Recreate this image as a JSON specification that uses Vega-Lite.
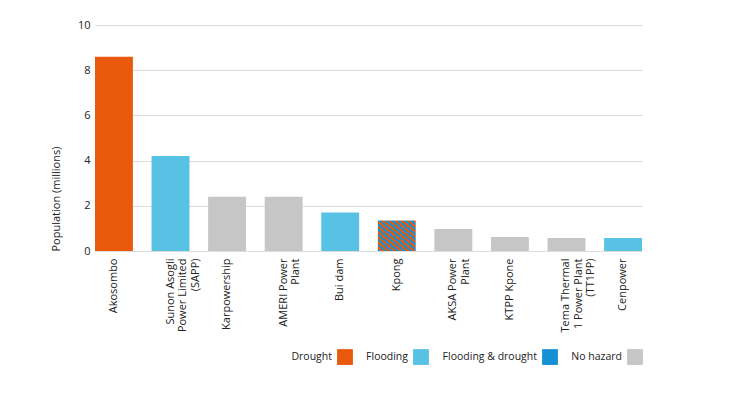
{
  "$schema": "https://vega.github.io/schema/vega-lite/v6.json",
  "width": 547,
  "height": 226,
  "autosize": {"type": "none"},
  "padding": {"left": 95, "top": 25, "right": 103, "bottom": 148},
  "background": "white",
  "config": {
    "view": {"stroke": null},
    "font": "Open Sans",
    "axis": {"labelFont": "Open Sans", "titleFont": "Open Sans", "labelColor": "#222222", "titleColor": "#222222"}
  },
  "data": {
    "values": [
      {"site": "Akosombo", "population": 8.6, "hazard": "Drought"},
      {"site": "Sunon Asogli|Power Limited|(SAPP)", "population": 4.2, "hazard": "Flooding"},
      {"site": "Karpowership", "population": 2.4, "hazard": "No hazard"},
      {"site": "AMERI Power|Plant", "population": 2.4, "hazard": "No hazard"},
      {"site": "Bui dam", "population": 1.7, "hazard": "Flooding"},
      {"site": "Kpong", "population": 1.35, "hazard": "Flooding & drought"},
      {"site": "AKSA Power|Plant", "population": 0.97, "hazard": "No hazard"},
      {"site": "KTPP Kpone", "population": 0.62, "hazard": "No hazard"},
      {"site": "Tema Thermal|1 Power Plant|(TT1PP)", "population": 0.58, "hazard": "No hazard"},
      {"site": "Cenpower", "population": 0.58, "hazard": "Flooding"}
    ]
  },
  "mark": {"type": "bar"},
  "encoding": {
    "x": {
      "field": "site",
      "type": "nominal",
      "sort": null,
      "scale": {"paddingInner": 0.33, "paddingOuter": 0},
      "axis": {
        "title": null,
        "labelAngle": -90,
        "labelExpr": "split(datum.value, '|')",
        "labelFontSize": 11,
        "labelLineHeight": 12.5,
        "labelPadding": 7,
        "ticks": false,
        "domain": false,
        "grid": false
      }
    },
    "y": {
      "field": "population",
      "type": "quantitative",
      "scale": {"domain": [0, 10], "nice": false},
      "axis": {
        "title": "Population (millions)",
        "titleFontSize": 11,
        "titleFontWeight": "normal",
        "titleAnchor": "start",
        "titlePadding": 16,
        "values": [0, 2, 4, 6, 8, 10],
        "labelFontSize": 11,
        "labelPadding": 5,
        "ticks": false,
        "domain": false,
        "grid": true,
        "gridColor": "#dcdcdc",
        "gridWidth": 1.2
      }
    },
    "color": {
      "condition": {
        "test": "datum.hazard === 'Flooding & drought'",
        "value": {
          "gradient": "linear", "x1": 0, "y1": 1, "x2": 1, "y2": 0,
          "stops": [
            {"offset": 0, "color": "#1590D5"}, {"offset": 0.0417, "color": "#1590D5"},
            {"offset": 0.0417, "color": "#E8590C"}, {"offset": 0.0833, "color": "#E8590C"},
            {"offset": 0.0833, "color": "#1590D5"}, {"offset": 0.125, "color": "#1590D5"},
            {"offset": 0.125, "color": "#E8590C"}, {"offset": 0.1667, "color": "#E8590C"},
            {"offset": 0.1667, "color": "#1590D5"}, {"offset": 0.2083, "color": "#1590D5"},
            {"offset": 0.2083, "color": "#E8590C"}, {"offset": 0.25, "color": "#E8590C"},
            {"offset": 0.25, "color": "#1590D5"}, {"offset": 0.2917, "color": "#1590D5"},
            {"offset": 0.2917, "color": "#E8590C"}, {"offset": 0.3333, "color": "#E8590C"},
            {"offset": 0.3333, "color": "#1590D5"}, {"offset": 0.375, "color": "#1590D5"},
            {"offset": 0.375, "color": "#E8590C"}, {"offset": 0.4167, "color": "#E8590C"},
            {"offset": 0.4167, "color": "#1590D5"}, {"offset": 0.4583, "color": "#1590D5"},
            {"offset": 0.4583, "color": "#E8590C"}, {"offset": 0.5, "color": "#E8590C"},
            {"offset": 0.5, "color": "#1590D5"}, {"offset": 0.5417, "color": "#1590D5"},
            {"offset": 0.5417, "color": "#E8590C"}, {"offset": 0.5833, "color": "#E8590C"},
            {"offset": 0.5833, "color": "#1590D5"}, {"offset": 0.625, "color": "#1590D5"},
            {"offset": 0.625, "color": "#E8590C"}, {"offset": 0.6667, "color": "#E8590C"},
            {"offset": 0.6667, "color": "#1590D5"}, {"offset": 0.7083, "color": "#1590D5"},
            {"offset": 0.7083, "color": "#E8590C"}, {"offset": 0.75, "color": "#E8590C"},
            {"offset": 0.75, "color": "#1590D5"}, {"offset": 0.7917, "color": "#1590D5"},
            {"offset": 0.7917, "color": "#E8590C"}, {"offset": 0.8333, "color": "#E8590C"},
            {"offset": 0.8333, "color": "#1590D5"}, {"offset": 0.875, "color": "#1590D5"},
            {"offset": 0.875, "color": "#E8590C"}, {"offset": 0.9167, "color": "#E8590C"},
            {"offset": 0.9167, "color": "#1590D5"}, {"offset": 0.9583, "color": "#1590D5"},
            {"offset": 0.9583, "color": "#E8590C"}, {"offset": 1, "color": "#E8590C"}
          ]
        }
      },
      "field": "hazard",
      "type": "nominal",
      "scale": {
        "domain": ["Drought", "Flooding", "Flooding & drought", "No hazard"],
        "range": ["#E8590C", "#57C2E3", "#1590D5", "#C6C6C6"]
      },
      "legend": {
        "title": null,
        "orient": "none",
        "direction": "horizontal",
        "legendX": 242,
        "legendY": 324,
        "padding": 0,
        "symbolType": "square",
        "symbolSize": 250,
        "symbolStrokeWidth": 0,
        "symbolOpacity": 1,
        "labelFont": "Open Sans",
        "labelFontSize": 10.5,
        "labelColor": "#222222",
        "labelAlign": "right",
        "labelOffset": -21,
        "columnPadding": 13
      }
    }
  }
}
